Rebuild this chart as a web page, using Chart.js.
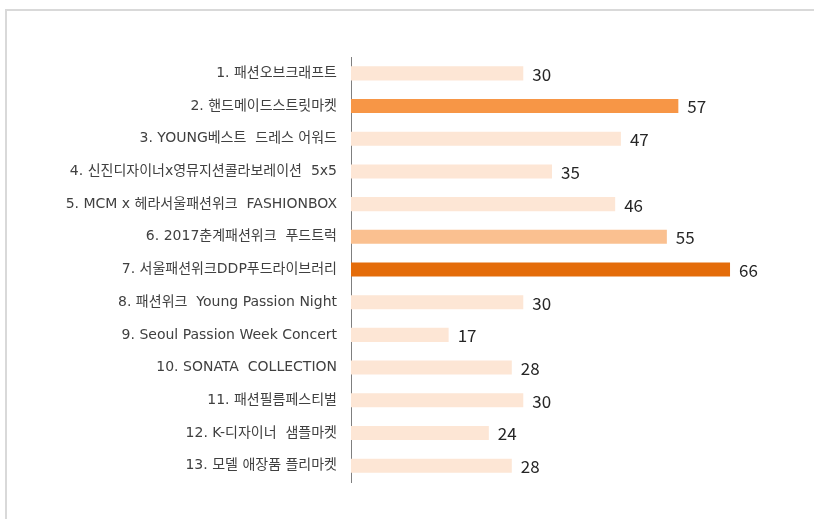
<!DOCTYPE html>
<html>
<head>
<meta charset="utf-8">
<script src="https://cdn.jsdelivr.net/npm/chart.js@4/dist/chart.umd.min.js"></script>
<style>
    html, body { margin: 0; padding: 0; background: #fff; overflow: hidden; }
    #wrap { position: absolute; left: 0; top: 0; width: 814px; height: 519px; }
    #frame { position: absolute; left: 5px; top: 9px; width: 830px; height: 530px;
             border-top: 2px solid #d9d9d9; border-left: 2px solid #d9d9d9; }
</style>
</head>
<body>
<div id="frame"></div>
<div id="wrap"><canvas id="chart"></canvas></div>
<script>
const events = [
    '1. 패션오브크래프트',
    '2. 핸드메이드스트릿마켓',
    '3. YOUNG베스트  드레스 어워드',
    '4. 신진디자이너x영뮤지션콜라보레이션  5x5',
    '5. MCM x 헤라서울패션위크  FASHIONBOX',
    '6. 2017춘계패션위크  푸드트럭',
    '7. 서울패션위크DDP푸드라이브러리',
    '8. 패션위크  Young Passion Night',
    '9. Seoul Passion Week Concert',
    '10. SONATA  COLLECTION',
    '11. 패션필름페스티벌',
    '12. K-디자이너  샘플마켓',
    '13. 모델 애장품 플리마켓'
];
const counts = [30, 57, 47, 35, 46, 55, 66, 30, 17, 28, 30, 24, 28];

// highlight shades, one per bar
const barColors = ['#fde6d5', '#f79646', '#fde6d5', '#fde6d5', '#fde6d5', '#fac090', '#e46c0a',
                   '#fde6d5', '#fde6d5', '#fde6d5', '#fde6d5', '#fde6d5', '#fde6d5'];

const valueLabels = {
    id: 'valueLabels',
    afterDatasetsDraw(chart) {
        const ctx = chart.ctx;
        const meta = chart.getDatasetMeta(0);
        ctx.save();
        ctx.font = '17px "Noto Sans CJK KR", "Open Sans", sans-serif';
        ctx.fillStyle = '#262626';
        ctx.textAlign = 'left';
        ctx.textBaseline = 'middle';
        meta.data.forEach((bar, i) => {
            ctx.fillText(String(counts[i]), bar.x + 9, bar.y + 1);
        });
        ctx.restore();
    }
};

new Chart(document.getElementById('chart'), {
    type: 'bar',
    data: {
        labels: events,
        datasets: [{
            data: counts,
            backgroundColor: barColors,
            borderWidth: 0,
            barPercentage: 0.86,
            categoryPercentage: 0.5
        }]
    },
    options: {
        indexAxis: 'y',
        responsive: true,
        maintainAspectRatio: false,
        animation: false,
        layout: { padding: { left: 0, top: 57, right: 61, bottom: 37 } },
        plugins: {
            legend: { display: false },
            tooltip: { enabled: false }
        },
        scales: {
            x: {
                display: false,
                min: 0,
                max: 70
            },
            y: {
                grid: { display: false, drawTicks: false },
                border: { display: true, color: '#7f7f7f', width: 1 },
                ticks: {
                    color: '#404040',
                    padding: 14,
                    font: { family: '"DejaVu Sans", "Noto Sans CJK KR", sans-serif', size: 14 }
                },
                afterFit(scale) { scale.width = 351; }
            }
        }
    },
    plugins: [valueLabels]
});
</script>
</body>
</html>
